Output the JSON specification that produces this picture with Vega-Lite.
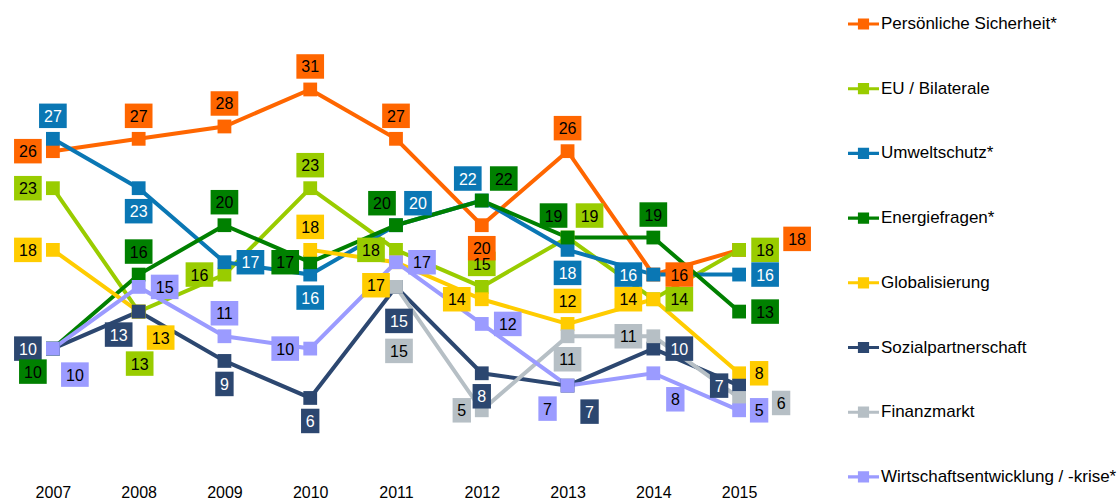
{
  "$schema": "https://vega.github.io/schema/vega-lite/v6.json",
  "width": 772,
  "height": 472,
  "autosize": {"type": "none"},
  "padding": {"left": 10, "top": 0, "right": 337, "bottom": 28},
  "config": {"view": {"stroke": null}, "font": "Liberation Sans"},
  "data": {
    "values": [
      {"s": "Persönliche Sicherheit*", "year": "2007", "v": 26, "p": "l"},
      {"s": "Persönliche Sicherheit*", "year": "2008", "v": 27, "p": "t"},
      {"s": "Persönliche Sicherheit*", "year": "2009", "v": 28, "p": "t"},
      {"s": "Persönliche Sicherheit*", "year": "2010", "v": 31, "p": "t"},
      {"s": "Persönliche Sicherheit*", "year": "2011", "v": 27, "p": "t"},
      {"s": "Persönliche Sicherheit*", "year": "2012", "v": 20, "p": "b"},
      {"s": "Persönliche Sicherheit*", "year": "2013", "v": 26, "p": "t"},
      {"s": "Persönliche Sicherheit*", "year": "2014", "v": 16, "p": "r"},
      {"s": "Persönliche Sicherheit*", "year": "2015", "v": 18, "p": "r2"},
      {"s": "EU / Bilaterale", "year": "2007", "v": 23, "p": "l"},
      {"s": "EU / Bilaterale", "year": "2008", "v": 13, "p": "b3"},
      {"s": "EU / Bilaterale", "year": "2009", "v": 16, "p": "l"},
      {"s": "EU / Bilaterale", "year": "2010", "v": 23, "p": "t"},
      {"s": "EU / Bilaterale", "year": "2011", "v": 18, "p": "l"},
      {"s": "EU / Bilaterale", "year": "2012", "v": 15, "p": "t"},
      {"s": "EU / Bilaterale", "year": "2013", "v": 19, "p": "tr"},
      {"s": "EU / Bilaterale", "year": "2014", "v": 14, "p": "r"},
      {"s": "EU / Bilaterale", "year": "2015", "v": 18, "p": "r"},
      {"s": "Umweltschutz*", "year": "2007", "v": 27, "p": "t"},
      {"s": "Umweltschutz*", "year": "2008", "v": 23, "p": "b"},
      {"s": "Umweltschutz*", "year": "2009", "v": 17, "p": "r"},
      {"s": "Umweltschutz*", "year": "2010", "v": 16, "p": "b"},
      {"s": "Umweltschutz*", "year": "2011", "v": 20, "p": "tr"},
      {"s": "Umweltschutz*", "year": "2012", "v": 22, "p": "tl"},
      {"s": "Umweltschutz*", "year": "2013", "v": 18, "p": "b"},
      {"s": "Umweltschutz*", "year": "2014", "v": 16, "p": "l"},
      {"s": "Umweltschutz*", "year": "2015", "v": 16, "p": "r"},
      {"s": "Energiefragen*", "year": "2007", "v": 10, "p": "bl"},
      {"s": "Energiefragen*", "year": "2008", "v": 16, "p": "t"},
      {"s": "Energiefragen*", "year": "2009", "v": 20, "p": "t"},
      {"s": "Energiefragen*", "year": "2010", "v": 17, "p": "l"},
      {"s": "Energiefragen*", "year": "2011", "v": 20, "p": "tl"},
      {"s": "Energiefragen*", "year": "2012", "v": 22, "p": "tr"},
      {"s": "Energiefragen*", "year": "2013", "v": 19, "p": "tl"},
      {"s": "Energiefragen*", "year": "2014", "v": 19, "p": "t"},
      {"s": "Energiefragen*", "year": "2015", "v": 13, "p": "r"},
      {"s": "Globalisierung", "year": "2007", "v": 18, "p": "l"},
      {"s": "Globalisierung", "year": "2008", "v": 13, "p": "br"},
      {"s": "Globalisierung", "year": "2009", "v": null, "p": null},
      {"s": "Globalisierung", "year": "2010", "v": 18, "p": "t"},
      {"s": "Globalisierung", "year": "2011", "v": 17, "p": "bl"},
      {"s": "Globalisierung", "year": "2012", "v": 14, "p": "l"},
      {"s": "Globalisierung", "year": "2013", "v": 12, "p": "t"},
      {"s": "Globalisierung", "year": "2014", "v": 14, "p": "l"},
      {"s": "Globalisierung", "year": "2015", "v": 8, "p": "r"},
      {"s": "Sozialpartnerschaft", "year": "2007", "v": 10, "p": "l"},
      {"s": "Sozialpartnerschaft", "year": "2008", "v": 13, "p": "bl"},
      {"s": "Sozialpartnerschaft", "year": "2009", "v": 9, "p": "b"},
      {"s": "Sozialpartnerschaft", "year": "2010", "v": 6, "p": "b"},
      {"s": "Sozialpartnerschaft", "year": "2011", "v": 15, "p": "b2"},
      {"s": "Sozialpartnerschaft", "year": "2012", "v": 8, "p": "b"},
      {"s": "Sozialpartnerschaft", "year": "2013", "v": 7, "p": "br"},
      {"s": "Sozialpartnerschaft", "year": "2014", "v": 10, "p": "r"},
      {"s": "Sozialpartnerschaft", "year": "2015", "v": 7, "p": "l"},
      {"s": "Finanzmarkt", "year": "2011", "v": 15, "p": "b4"},
      {"s": "Finanzmarkt", "year": "2012", "v": 5, "p": "l"},
      {"s": "Finanzmarkt", "year": "2013", "v": 11, "p": "b"},
      {"s": "Finanzmarkt", "year": "2014", "v": 11, "p": "l"},
      {"s": "Finanzmarkt", "year": "2015", "v": 6, "p": "r3"},
      {"s": "Wirtschaftsentwicklung / -krise*", "year": "2007", "v": 10, "p": "br"},
      {"s": "Wirtschaftsentwicklung / -krise*", "year": "2008", "v": 15, "p": "r"},
      {"s": "Wirtschaftsentwicklung / -krise*", "year": "2009", "v": 11, "p": "t"},
      {"s": "Wirtschaftsentwicklung / -krise*", "year": "2010", "v": 10, "p": "l"},
      {"s": "Wirtschaftsentwicklung / -krise*", "year": "2011", "v": 17, "p": "r"},
      {"s": "Wirtschaftsentwicklung / -krise*", "year": "2012", "v": 12, "p": "r"},
      {"s": "Wirtschaftsentwicklung / -krise*", "year": "2013", "v": 7, "p": "bl"},
      {"s": "Wirtschaftsentwicklung / -krise*", "year": "2014", "v": 8, "p": "br"},
      {"s": "Wirtschaftsentwicklung / -krise*", "year": "2015", "v": 5, "p": "r"}
    ]
  },
  "encoding": {
    "x": {
      "field": "year", "type": "ordinal",
      "scale": {"type": "point", "padding": 0.5},
      "axis": {"title": null, "domain": false, "ticks": false, "grid": false, "labelAngle": 0, "labelPadding": 12, "labelFontSize": 16, "labelFont": "Liberation Sans", "labelColor": "#000000"}
    },
    "y": {
      "field": "v", "type": "quantitative",
      "scale": {"domain": [0, 38.25], "nice": false, "zero": true},
      "axis": null
    },
    "color": {
      "field": "s", "type": "nominal",
      "scale": {
        "domain": ["Persönliche Sicherheit*", "EU / Bilaterale", "Umweltschutz*", "Energiefragen*", "Globalisierung", "Sozialpartnerschaft", "Finanzmarkt", "Wirtschaftsentwicklung / -krise*"],
        "range": ["#FF6600", "#99CC00", "#0A77B4", "#008000", "#FFCC00", "#2C4770", "#B6BFC5", "#9B9BFF"]
      },
      "legend": {
        "title": null, "orient": "none", "legendX": 838, "legendY": 8.5,
        "symbolType": "M-1,-0.1H1V0.1H-1Z M-0.36,-0.36H0.36V0.36H-0.36Z",
        "symbolSize": 961, "symbolStrokeWidth": 0, "symbolOpacity": 1,
        "labelFontSize": 17, "labelFont": "Liberation Sans", "labelColor": "#000000",
        "labelOffset": 2, "rowPadding": 40.7, "padding": 0, "labelLimit": 300,
        "encode": {"symbols": {"update": {"fill": {"scale": "color", "field": "value"}, "stroke": {"value": "transparent"}, "strokeWidth": {"value": 0}, "opacity": {"value": 1}}}}
      }
    }
  },
  "layer": [
    {"mark": {"type": "line", "strokeWidth": 4, "invalid": "break-paths-filter-domains"}},
    {"mark": {"type": "point", "shape": "square", "filled": true, "opacity": 1, "size": 190, "strokeWidth": 0}},

    {"transform": [{"filter": "datum.p==='t'"}], "mark": {"type": "point", "filled": true, "opacity": 1, "size": 600, "strokeWidth": 0, "xOffset": 0, "yOffset": -23}, "encoding": {"shape": {"condition": {"test": "datum.v<10", "value": "M-0.75,-1H0.75V1H-0.75Z"}, "value": "M-1.13,-1H1.13V1H-1.13Z"}}},
    {"transform": [{"filter": "datum.p==='b'"}], "mark": {"type": "point", "filled": true, "opacity": 1, "size": 600, "strokeWidth": 0, "xOffset": 0, "yOffset": 23}, "encoding": {"shape": {"condition": {"test": "datum.v<10", "value": "M-0.75,-1H0.75V1H-0.75Z"}, "value": "M-1.13,-1H1.13V1H-1.13Z"}}},
    {"transform": [{"filter": "datum.p==='l' && datum.v>=10"}], "mark": {"type": "point", "filled": true, "opacity": 1, "size": 600, "strokeWidth": 0, "xOffset": -25, "yOffset": 0}, "encoding": {"shape": {"value": "M-1.13,-1H1.13V1H-1.13Z"}}},
    {"transform": [{"filter": "datum.p==='l' && datum.v<10"}], "mark": {"type": "point", "filled": true, "opacity": 1, "size": 600, "strokeWidth": 0, "xOffset": -20, "yOffset": 0}, "encoding": {"shape": {"value": "M-0.75,-1H0.75V1H-0.75Z"}}},
    {"transform": [{"filter": "datum.p==='r' && datum.v>=10"}], "mark": {"type": "point", "filled": true, "opacity": 1, "size": 600, "strokeWidth": 0, "xOffset": 26, "yOffset": 0}, "encoding": {"shape": {"value": "M-1.13,-1H1.13V1H-1.13Z"}}},
    {"transform": [{"filter": "datum.p==='r' && datum.v<10"}], "mark": {"type": "point", "filled": true, "opacity": 1, "size": 600, "strokeWidth": 0, "xOffset": 20, "yOffset": 0}, "encoding": {"shape": {"value": "M-0.75,-1H0.75V1H-0.75Z"}}},
    {"transform": [{"filter": "datum.p==='tl'"}], "mark": {"type": "point", "filled": true, "opacity": 1, "size": 600, "strokeWidth": 0, "xOffset": -14, "yOffset": -22}, "encoding": {"shape": {"condition": {"test": "datum.v<10", "value": "M-0.75,-1H0.75V1H-0.75Z"}, "value": "M-1.13,-1H1.13V1H-1.13Z"}}},
    {"transform": [{"filter": "datum.p==='tr'"}], "mark": {"type": "point", "filled": true, "opacity": 1, "size": 600, "strokeWidth": 0, "xOffset": 22, "yOffset": -22}, "encoding": {"shape": {"condition": {"test": "datum.v<10", "value": "M-0.75,-1H0.75V1H-0.75Z"}, "value": "M-1.13,-1H1.13V1H-1.13Z"}}},
    {"transform": [{"filter": "datum.p==='bl'"}], "mark": {"type": "point", "filled": true, "opacity": 1, "size": 600, "strokeWidth": 0, "xOffset": -20, "yOffset": 23}, "encoding": {"shape": {"condition": {"test": "datum.v<10", "value": "M-0.75,-1H0.75V1H-0.75Z"}, "value": "M-1.13,-1H1.13V1H-1.13Z"}}},
    {"transform": [{"filter": "datum.p==='br'"}], "mark": {"type": "point", "filled": true, "opacity": 1, "size": 600, "strokeWidth": 0, "xOffset": 22, "yOffset": 26}, "encoding": {"shape": {"condition": {"test": "datum.v<10", "value": "M-0.75,-1H0.75V1H-0.75Z"}, "value": "M-1.13,-1H1.13V1H-1.13Z"}}},
    {"transform": [{"filter": "datum.p==='b2'"}], "mark": {"type": "point", "filled": true, "opacity": 1, "size": 600, "strokeWidth": 0, "xOffset": 3, "yOffset": 34}, "encoding": {"shape": {"condition": {"test": "datum.v<10", "value": "M-0.75,-1H0.75V1H-0.75Z"}, "value": "M-1.13,-1H1.13V1H-1.13Z"}}},
    {"transform": [{"filter": "datum.p==='b3'"}], "mark": {"type": "point", "filled": true, "opacity": 1, "size": 600, "strokeWidth": 0, "xOffset": 1, "yOffset": 52}, "encoding": {"shape": {"condition": {"test": "datum.v<10", "value": "M-0.75,-1H0.75V1H-0.75Z"}, "value": "M-1.13,-1H1.13V1H-1.13Z"}}},
    {"transform": [{"filter": "datum.p==='b4'"}], "mark": {"type": "point", "filled": true, "opacity": 1, "size": 600, "strokeWidth": 0, "xOffset": 3, "yOffset": 64}, "encoding": {"shape": {"condition": {"test": "datum.v<10", "value": "M-0.75,-1H0.75V1H-0.75Z"}, "value": "M-1.13,-1H1.13V1H-1.13Z"}}},
    {"transform": [{"filter": "datum.p==='r2'"}], "mark": {"type": "point", "filled": true, "opacity": 1, "size": 600, "strokeWidth": 0, "xOffset": 58, "yOffset": -11}, "encoding": {"shape": {"condition": {"test": "datum.v<10", "value": "M-0.75,-1H0.75V1H-0.75Z"}, "value": "M-1.13,-1H1.13V1H-1.13Z"}}},
    {"transform": [{"filter": "datum.p==='r3'"}], "mark": {"type": "point", "filled": true, "opacity": 1, "size": 600, "strokeWidth": 0, "xOffset": 42, "yOffset": 5}, "encoding": {"shape": {"condition": {"test": "datum.v<10", "value": "M-0.75,-1H0.75V1H-0.75Z"}, "value": "M-1.13,-1H1.13V1H-1.13Z"}}},

    {"transform": [{"filter": "datum.p==='t'"}], "mark": {"type": "text", "dx": 0, "dy": -22, "fontSize": 16, "font": "Liberation Sans", "align": "center", "baseline": "middle"}, "encoding": {"text": {"field": "v", "type": "quantitative"}, "color": {"condition": {"test": "datum.s==='Umweltschutz*' || datum.s==='Sozialpartnerschaft'", "value": "#FFFFFF"}, "value": "#000000"}}},
    {"transform": [{"filter": "datum.p==='b'"}], "mark": {"type": "text", "dx": 0, "dy": 24, "fontSize": 16, "font": "Liberation Sans", "align": "center", "baseline": "middle"}, "encoding": {"text": {"field": "v", "type": "quantitative"}, "color": {"condition": {"test": "datum.s==='Umweltschutz*' || datum.s==='Sozialpartnerschaft'", "value": "#FFFFFF"}, "value": "#000000"}}},
    {"transform": [{"filter": "datum.p==='l' && datum.v>=10"}], "mark": {"type": "text", "dx": -25, "dy": 1, "fontSize": 16, "font": "Liberation Sans", "align": "center", "baseline": "middle"}, "encoding": {"text": {"field": "v", "type": "quantitative"}, "color": {"condition": {"test": "datum.s==='Umweltschutz*' || datum.s==='Sozialpartnerschaft'", "value": "#FFFFFF"}, "value": "#000000"}}},
    {"transform": [{"filter": "datum.p==='l' && datum.v<10"}], "mark": {"type": "text", "dx": -20, "dy": 1, "fontSize": 16, "font": "Liberation Sans", "align": "center", "baseline": "middle"}, "encoding": {"text": {"field": "v", "type": "quantitative"}, "color": {"condition": {"test": "datum.s==='Umweltschutz*' || datum.s==='Sozialpartnerschaft'", "value": "#FFFFFF"}, "value": "#000000"}}},
    {"transform": [{"filter": "datum.p==='r' && datum.v>=10"}], "mark": {"type": "text", "dx": 26, "dy": 1, "fontSize": 16, "font": "Liberation Sans", "align": "center", "baseline": "middle"}, "encoding": {"text": {"field": "v", "type": "quantitative"}, "color": {"condition": {"test": "datum.s==='Umweltschutz*' || datum.s==='Sozialpartnerschaft'", "value": "#FFFFFF"}, "value": "#000000"}}},
    {"transform": [{"filter": "datum.p==='r' && datum.v<10"}], "mark": {"type": "text", "dx": 20, "dy": 1, "fontSize": 16, "font": "Liberation Sans", "align": "center", "baseline": "middle"}, "encoding": {"text": {"field": "v", "type": "quantitative"}, "color": {"condition": {"test": "datum.s==='Umweltschutz*' || datum.s==='Sozialpartnerschaft'", "value": "#FFFFFF"}, "value": "#000000"}}},
    {"transform": [{"filter": "datum.p==='tl'"}], "mark": {"type": "text", "dx": -14, "dy": -21, "fontSize": 16, "font": "Liberation Sans", "align": "center", "baseline": "middle"}, "encoding": {"text": {"field": "v", "type": "quantitative"}, "color": {"condition": {"test": "datum.s==='Umweltschutz*' || datum.s==='Sozialpartnerschaft'", "value": "#FFFFFF"}, "value": "#000000"}}},
    {"transform": [{"filter": "datum.p==='tr'"}], "mark": {"type": "text", "dx": 22, "dy": -21, "fontSize": 16, "font": "Liberation Sans", "align": "center", "baseline": "middle"}, "encoding": {"text": {"field": "v", "type": "quantitative"}, "color": {"condition": {"test": "datum.s==='Umweltschutz*' || datum.s==='Sozialpartnerschaft'", "value": "#FFFFFF"}, "value": "#000000"}}},
    {"transform": [{"filter": "datum.p==='bl'"}], "mark": {"type": "text", "dx": -20, "dy": 24, "fontSize": 16, "font": "Liberation Sans", "align": "center", "baseline": "middle"}, "encoding": {"text": {"field": "v", "type": "quantitative"}, "color": {"condition": {"test": "datum.s==='Umweltschutz*' || datum.s==='Sozialpartnerschaft'", "value": "#FFFFFF"}, "value": "#000000"}}},
    {"transform": [{"filter": "datum.p==='br'"}], "mark": {"type": "text", "dx": 22, "dy": 27, "fontSize": 16, "font": "Liberation Sans", "align": "center", "baseline": "middle"}, "encoding": {"text": {"field": "v", "type": "quantitative"}, "color": {"condition": {"test": "datum.s==='Umweltschutz*' || datum.s==='Sozialpartnerschaft'", "value": "#FFFFFF"}, "value": "#000000"}}},
    {"transform": [{"filter": "datum.p==='b2'"}], "mark": {"type": "text", "dx": 3, "dy": 35, "fontSize": 16, "font": "Liberation Sans", "align": "center", "baseline": "middle"}, "encoding": {"text": {"field": "v", "type": "quantitative"}, "color": {"condition": {"test": "datum.s==='Umweltschutz*' || datum.s==='Sozialpartnerschaft'", "value": "#FFFFFF"}, "value": "#000000"}}},
    {"transform": [{"filter": "datum.p==='b3'"}], "mark": {"type": "text", "dx": 1, "dy": 53, "fontSize": 16, "font": "Liberation Sans", "align": "center", "baseline": "middle"}, "encoding": {"text": {"field": "v", "type": "quantitative"}, "color": {"condition": {"test": "datum.s==='Umweltschutz*' || datum.s==='Sozialpartnerschaft'", "value": "#FFFFFF"}, "value": "#000000"}}},
    {"transform": [{"filter": "datum.p==='b4'"}], "mark": {"type": "text", "dx": 3, "dy": 65, "fontSize": 16, "font": "Liberation Sans", "align": "center", "baseline": "middle"}, "encoding": {"text": {"field": "v", "type": "quantitative"}, "color": {"condition": {"test": "datum.s==='Umweltschutz*' || datum.s==='Sozialpartnerschaft'", "value": "#FFFFFF"}, "value": "#000000"}}},
    {"transform": [{"filter": "datum.p==='r2'"}], "mark": {"type": "text", "dx": 58, "dy": -10, "fontSize": 16, "font": "Liberation Sans", "align": "center", "baseline": "middle"}, "encoding": {"text": {"field": "v", "type": "quantitative"}, "color": {"condition": {"test": "datum.s==='Umweltschutz*' || datum.s==='Sozialpartnerschaft'", "value": "#FFFFFF"}, "value": "#000000"}}},
    {"transform": [{"filter": "datum.p==='r3'"}], "mark": {"type": "text", "dx": 42, "dy": 6, "fontSize": 16, "font": "Liberation Sans", "align": "center", "baseline": "middle"}, "encoding": {"text": {"field": "v", "type": "quantitative"}, "color": {"condition": {"test": "datum.s==='Umweltschutz*' || datum.s==='Sozialpartnerschaft'", "value": "#FFFFFF"}, "value": "#000000"}}}
  ]
}
